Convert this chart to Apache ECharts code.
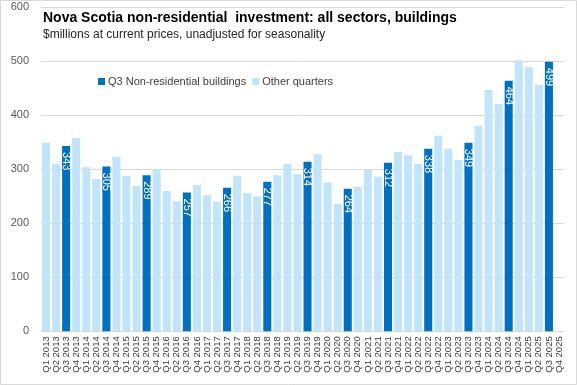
<!DOCTYPE html>
<html>
<head>
<meta charset="utf-8">
<script src="https://cdn.jsdelivr.net/npm/echarts@6/dist/echarts.min.js"></script>
<style>
html,body{margin:0;padding:0;background:#fff;}
#chart{width:577px;height:385px;}
</style>
</head>
<body>
<div id="chart"></div>
<script>
var categories = [
  'Q1 2013','Q2 2013','Q3 2013','Q4 2013',
  'Q1 2014','Q2 2014','Q3 2014','Q4 2014',
  'Q1 2015','Q2 2015','Q3 2015','Q4 2015',
  'Q1 2016','Q2 2016','Q3 2016','Q4 2016',
  'Q1 2017','Q2 2017','Q3 2017','Q4 2017',
  'Q1 2018','Q2 2018','Q3 2018','Q4 2018',
  'Q1 2019','Q2 2019','Q3 2019','Q4 2019',
  'Q1 2020','Q2 2020','Q3 2020','Q4 2020',
  'Q1 2021','Q2 2021','Q3 2021','Q4 2021',
  'Q1 2022','Q2 2022','Q3 2022','Q4 2022',
  'Q1 2023','Q2 2023','Q3 2023','Q4 2023',
  'Q1 2024','Q2 2024','Q3 2024','Q4 2024',
  'Q1 2025','Q2 2025','Q3 2025','Q4 2025'
];
var q3Buildings = [
  null,null,343,null,
  null,null,305,null,
  null,null,289,null,
  null,null,257,null,
  null,null,266,null,
  null,null,277,null,
  null,null,314,null,
  null,null,264,null,
  null,null,312,null,
  null,null,338,null,
  null,null,349,null,
  null,null,464,null,
  null,null,499,null
];
var otherQuarters = [
  349,310,null,358,
  304,282,null,323,
  288,269,null,300,
  260,241,null,271,
  252,240,null,288,
  256,250,null,289,
  310,291,null,328,
  276,236,null,267,
  299,286,null,332,
  326,310,null,362,
  338,317,null,380,
  447,421,null,502,
  489,456,null,null
];
var yTicks = [0,100,200,300,400,500,600];
var seriesNames = ['Q3 Non-residential buildings','Other quarters'];
var titleText = 'Nova Scotia non-residential  investment: all sectors, buildings';
var subtitleText = '$millions at current prices, unadjusted for seasonality';

var FONT = '"Liberation Sans",Arial,sans-serif';
var chart = echarts.init(document.getElementById('chart'), null, {renderer:'canvas'});
chart.setOption({
  animation:false,
  backgroundColor:'#ffffff',
  graphic:[{type:'rect',shape:{x:0.5,y:0.5,width:576,height:384},style:{fill:'none',stroke:'#d9d9d9',lineWidth:1},z:-1}],
  title:{
    text:titleText,
    subtext:subtitleText,
    left:38, top:6,
    itemGap:4,
    textStyle:{fontFamily:FONT,fontSize:14,fontWeight:'bold',color:'#000'},
    subtextStyle:{fontFamily:FONT,fontSize:12,color:'#262626'}
  },
  legend:{
    left:93, top:71,
    itemWidth:7, itemHeight:7, itemGap:6,
    icon:'rect',
    data:seriesNames,
    textStyle:{fontFamily:FONT,fontSize:11,color:'#404040',padding:[0,0,0,-2]}
  },
  grid:{left:41,right:13,top:7.3,bottom:53.7,containLabel:false},
  xAxis:{
    type:'category',
    data:categories,
    axisTick:{show:false},
    axisLine:{show:true,lineStyle:{color:'#d9d9d9'}},
    axisLabel:{interval:0,rotate:90,fontFamily:FONT,fontSize:9.5,color:'#404040',margin:5}
  },
  yAxis:{
    type:'value',
    min:yTicks[0], max:yTicks[yTicks.length-1], interval:100,
    axisLine:{show:false},axisTick:{show:false},
    splitLine:{lineStyle:{color:'#d9d9d9'}},
    axisLabel:{fontFamily:FONT,fontSize:11,color:'#595959',margin:12}
  },
  series:[
    {
      name:seriesNames[0], type:'bar', stack:'all',
      data:q3Buildings,
      barCategoryGap:'20%',
      itemStyle:{color:'#0070c0'},
      label:{
        show:true, position:'insideTop', rotate:-90, align:'left', verticalAlign:'middle',
        distance:6, color:'#ffffff', fontFamily:FONT, fontSize:11
      }
    },
    {
      name:seriesNames[1], type:'bar', stack:'all',
      data:otherQuarters,
      barCategoryGap:'20%',
      itemStyle:{color:'#c1e4fa'}
    }
  ]
});
</script>
</body>
</html>
